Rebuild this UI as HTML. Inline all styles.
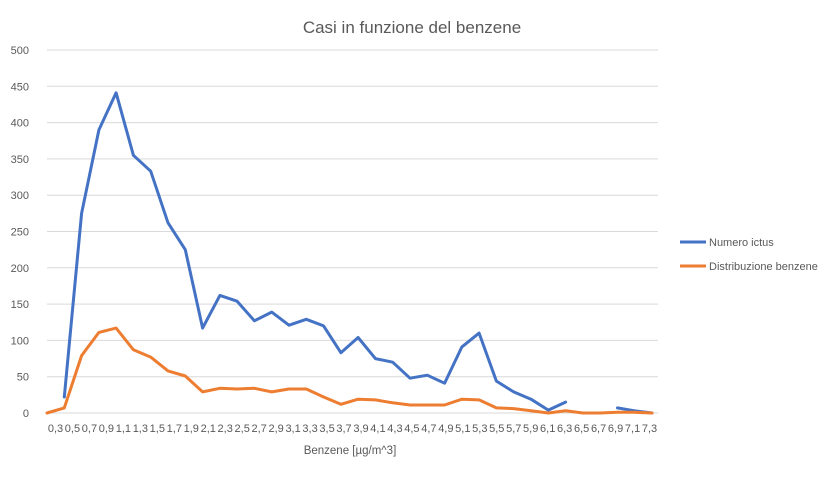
<!DOCTYPE html>
<html><head><meta charset="utf-8"><style>
body{margin:0;background:#fff;font-family:"Liberation Sans",sans-serif;}
svg text{font-family:"Liberation Sans",sans-serif;}
</style></head><body>
<svg id="c" width="833" height="473" xmlns="http://www.w3.org/2000/svg">
<rect width="833" height="473" fill="#fff"/>
<text x="412" y="33" text-anchor="middle" font-size="17" fill="#595959">Casi in funzione del benzene</text>
<text x="350" y="454" text-anchor="middle" font-size="11.5" fill="#595959">Benzene  [µg/m^3]</text>
<g id="grid"></g><g id="xl"></g><g id="yl"></g><g id="series"></g>
<g>
<line x1="680" y1="242" x2="706" y2="242" stroke="#4472C4" stroke-width="3"/>
<text x="709" y="246" font-size="11" fill="#595959">Numero ictus</text>
<line x1="680" y1="266" x2="706" y2="266" stroke="#ED7D31" stroke-width="3"/>
<text x="709" y="270" font-size="11" fill="#595959">Distribuzione benzene</text>
</g>
</svg>
<script>
const categories=["0,3","0,5","0,7","0,9","1,1","1,3","1,5","1,7","1,9","2,1","2,3","2,5","2,7","2,9","3,1","3,3","3,5","3,7","3,9","4,1","4,3","4,5","4,7","4,9","5,1","5,3","5,5","5,7","5,9","6,1","6,3","6,5","6,7","6,9","7,1","7,3"];
const ictus=[null,22,275,390,441,355,333,262,225,117,162,154,127,139,121,129,120,83,104,75,70,48,52,41,91,110,44,29,19,4,15,null,null,7,3,0];
const benzene=[0,7,79,111,117,87,77,58,51,29,34,33,34,29,33,33,22,12,19,18,14,11,11,11,19,18,7,6,3,0,3,0,0,1,1,0];
const yTicks=[0,50,100,150,200,250,300,350,400,450,500];
const L=47,R=658,T=50,B=413,NS="http://www.w3.org/2000/svg";
const n=categories.length;
const bw=(R-L)/n;
const xl=i=>L+bw*(i+0.5);
const x=i=>L+i*(652-L)/(n-1);
const y=v=>B-(v/500)*(B-T);
function el(t,a,p){const e=document.createElementNS(NS,t);for(const k in a)e.setAttribute(k,a[k]);document.getElementById(p).appendChild(e);return e;}
yTicks.forEach(v=>{
  const g=el('line',{x1:L,x2:R,y1:y(v),y2:y(v),stroke:'#d9d9d9','stroke-width':1},'grid');
  
  
  const t=el('text',{x:29,y:y(v)+4,'text-anchor':'end','font-size':'11',fill:'#595959'},'yl');
  t.textContent=v;
  
  
});
categories.forEach((c,i)=>{
  const t=el('text',{x:xl(i),y:432,'text-anchor':'middle','font-size':'11',fill:'#595959'},'xl');
  t.textContent=c;
  
  
});
function draw(vals,color,name){
  let segs=[],cur=[];
  vals.forEach((v,i)=>{if(v===null){if(cur.length)segs.push(cur);cur=[];}else cur.push(x(i).toFixed(1)+','+y(v).toFixed(1));});
  if(cur.length)segs.push(cur);
  segs.forEach(s=>{
    const p=el('polyline',{points:s.join(' '),fill:'none',stroke:color,'stroke-width':3,'stroke-linejoin':'round','stroke-linecap':'round'},'series');
    
    
  });
}
draw(ictus,'#4472C4','numero-ictus-line');
draw(benzene,'#ED7D31','distribuzione-benzene-line');
</script>
</body></html>
